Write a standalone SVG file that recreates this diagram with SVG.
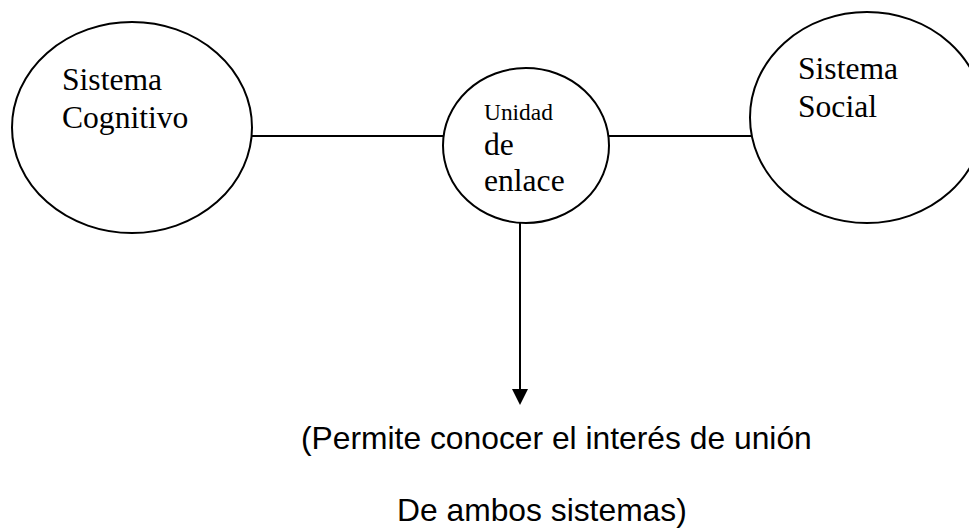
<svg xmlns="http://www.w3.org/2000/svg" width="969" height="529" viewBox="0 0 969 529">
  <style>
    .node { fill: #ffffff; stroke: #000000; stroke-width: 2; }
    .conn { fill: none; stroke: #000000; stroke-width: 2; }
    .serif { font-family: "Liberation Serif", "Times New Roman", serif; fill: #000000; }
    .big { font-size: 31.6px; }
    .small { font-size: 23.4px; }
    .sans { font-family: "Liberation Sans", Arial, sans-serif; font-size: 31.8px; fill: #000000; }
  </style>
  <defs>
    <marker id="arrow" markerUnits="userSpaceOnUse" viewBox="0 0 16 16" refX="1" refY="8" markerWidth="16" markerHeight="16" orient="auto">
      <path d="M0,0 L16,8 L0,16 z" fill="#000000"/>
    </marker>
  </defs>
  <rect width="969" height="529" fill="#ffffff"/>

  <g id="connectors">
    <line class="conn" x1="251.6" y1="136" x2="443.6" y2="136"/>
    <line class="conn" x1="608.4" y1="136" x2="751.8" y2="136"/>
    <line class="conn" x1="520" y1="222.8" x2="520" y2="390" marker-end="url(#arrow)"/>
  </g>

  <g id="sistema-cognitivo">
    <ellipse class="node" cx="132" cy="127.5" rx="120" ry="105.5"/>
    <text class="serif big" x="62" y="90">Sistema</text>
    <text class="serif big" x="62" y="128">Cognitivo</text>
  </g>

  <g id="unidad-enlace">
    <ellipse class="node" cx="526" cy="145.5" rx="83" ry="77.5"/>
    <text class="serif small" x="484" y="120">Unidad</text>
    <text class="serif big" x="484" y="155">de</text>
    <text class="serif big" x="484" y="191">enlace</text>
  </g>

  <g id="sistema-social">
    <ellipse class="node" cx="867" cy="117.5" rx="117" ry="105.5"/>
    <text class="serif big" x="798" y="79">Sistema</text>
    <text class="serif big" x="798" y="117">Social</text>
  </g>

  <g id="nota">
    <text class="sans" x="301" y="449">(Permite conocer el interés de unión</text>
    <text class="sans" x="397" y="521">De ambos sistemas)</text>
  </g>
</svg>
